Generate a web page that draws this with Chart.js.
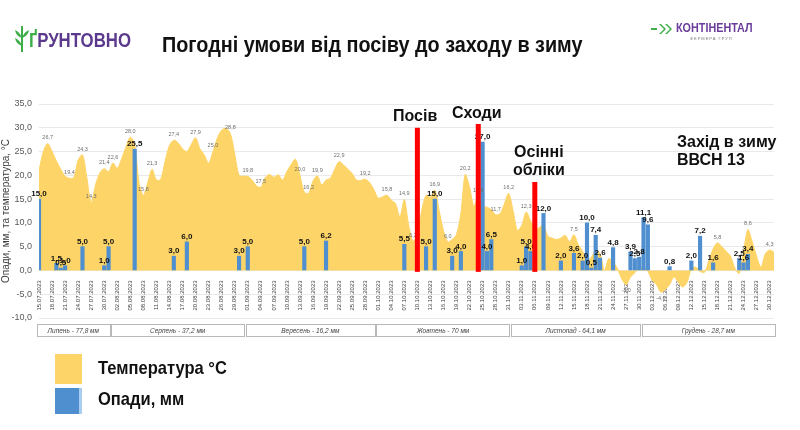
<!DOCTYPE html>
<html lang="uk">
<head>
<meta charset="utf-8">
<title>Погодні умови від посіву до заходу в зиму</title>
<script src="https://cdn.jsdelivr.net/npm/chart.js@4/dist/chart.umd.min.js"></script>
<style>
  html, body { margin: 0; padding: 0; background: #fff; }
  body { width: 800px; height: 430px; position: relative; overflow: hidden; font-family: 'Liberation Sans', Arial, sans-serif; }
  #weather { position: absolute; left: 0; top: 0; }
  .abs { position: absolute; white-space: nowrap; transform-origin: 0 50%; }
  .title { left: 162px; top: 32px; font: bold 22px 'Liberation Sans', Arial, sans-serif; color: #111; transform: scaleX(0.9); }
  .mark { font: bold 16px 'Liberation Sans', Arial, sans-serif; color: #111; line-height: 18px; }
  .legend-text { font: bold 19px 'Liberation Sans', Arial, sans-serif; color: #111; transform: scaleX(0.87); }
  .swatch { position: absolute; }
  .logo-l { left: 29px; top: 29px; font: bold 20px 'Liberation Sans', Arial, sans-serif; color: #5b3a8e; transform: scaleX(0.84); }
  .logo-l span { color: #3fae49; }
  .logo-r { left: 676px; top: 21px; font: bold 12px 'Liberation Sans', Arial, sans-serif; color: #6a3d9a; transform: scaleX(0.9); }
  .logo-sub { left: 690px; top: 36px; font: 4px 'Liberation Sans', sans-serif; color: #777; letter-spacing: 1px; }
</style>
</head>
<body>
<canvas id="weather" width="800" height="430"></canvas>

<svg class="abs" style="left:14px;top:24px" width="16" height="30" viewBox="0 0 16 30">
  <path d="M8 2 L8 28" stroke="#3fae49" stroke-width="2"/>
  <path d="M8 14 Q2 12 1 6 Q6 8 8 14 Z M8 22 Q2 20 1 14 Q6 16 8 22 Z M8 14 Q14 12 15 6 Q10 8 8 14 Z" fill="#3fae49"/>
</svg>
<div class="abs logo-l"><span>Ґ</span>РУНТОВНО</div>

<svg class="abs" style="left:651px;top:23px" width="24" height="12" viewBox="0 0 24 12">
  <path d="M0 6 L6 6" stroke="#3fae49" stroke-width="2"/>
  <path d="M8 1 L13 6 L8 11 L10 11 L15 6 L10 1 Z M14 1 L19 6 L14 11 L16 11 L21 6 L16 1 Z" fill="#3fae49"/>
</svg>
<div class="abs logo-r">КОНТІНЕНТАЛ</div>
<div class="abs logo-sub">ФЕРМЕРА ГРУП</div>

<div class="abs title">Погодні умови від посіву до заходу в зиму</div>

<div class="abs mark" style="left:393px;top:107px">Посів</div>
<div class="abs mark" style="left:452px;top:104px">Сходи</div>
<div class="abs mark" style="left:513px;top:143px;text-align:center">Осінні<br>обліки</div>
<div class="abs mark" style="left:677px;top:133px">Захід в зиму<br>ВВСН 13</div>

<div class="swatch" style="left:55px;top:354px;width:27px;height:30px;background:#fdd467"></div>
<div class="abs legend-text" style="left:98px;top:357px">Температура °C</div>
<div class="swatch" style="left:55px;top:388px;width:24px;height:26px;background:#4f8fd0;border-right:3px solid #a9cdee"></div>
<div class="abs legend-text" style="left:98px;top:388px">Опади, мм</div>

<script>
// daily temperature, °C, 15.07.2023 - 31.12.2023
var tempJul = [21.0, 25.0, 26.7, 25.0, 23.0, 21.3, 19.8, 19.4, 19.5, 23.2, 24.3, 19.5, 14.3, 18.0, 20.5, 21.4, 20.8];
var tempAug = [22.6, 21.5, 23.5, 26.0, 28.0, 26.5, 18.5, 15.8, 18.5, 21.3, 19.0, 19.2, 23.0, 26.3, 27.4, 26.8,
               25.6, 25.0, 26.5, 27.9, 25.6, 24.3, 22.6, 25.0, 27.8, 29.5, 29.9, 28.8, 24.5, 20.0, 19.8];
var tempSep = [19.8, 19.0, 17.8, 17.5, 19.5, 20.2, 19.6, 20.1, 19.0, 20.8, 22.3, 23.4, 20.0, 16.5, 16.2,
               18.8, 19.9, 18.0, 19.0, 19.4, 21.3, 22.9, 22.2, 21.3, 20.4, 19.0, 18.9, 19.2, 18.5, 17.0];
var tempOct = [15.2, 15.5, 15.8, 14.8, 14.0, 11.3, 14.9, 9.5, 6.2, 7.5, 12.6, 15.8, 15.4, 16.9, 12.6, 8.4,
               6.0, 6.5, 7.6, 12.0, 20.2, 17.5, 13.5, 15.6, 13.5, 13.3, 12.8, 11.7, 11.9, 14.0, 16.2];
var tempNov = [12.6, 8.4, 9.5, 12.3, 10.5, 8.5, 9.0, 9.5, 7.2, 6.8, 6.5, 6.8, 7.4, 6.0, 7.5,
               5.4, 4.0, 2.1, 2.8, 4.2, 3.5, 0.0, 2.5, 1.8, 0.4, -1.8, -3.0, -1.4, -0.5, 0.5];
var tempDec = [0.6, -0.2, -2.1, -3.0, -4.6, -4.0, -3.0, -1.4, -2.5, -3.5, -2.5, 0.3, 0.7, -0.2, -0.4, 2.0,
               4.5, 5.8, 5.0, 4.0, 3.0, 0.5, -0.6, 4.0, 8.6, 6.0, 3.0, 0.7, 3.5, 4.3, 3.8];

// rainy days and precipitation, mm
var rainDays = ['15.07.2023', '19.07.2023', '20.07.2023', '21.07.2023', '25.07.2023', '30.07.2023', '31.07.2023',
  '06.08.2023', '15.08.2023', '18.08.2023', '30.08.2023', '01.09.2023', '14.09.2023', '19.09.2023',
  '07.10.2023', '12.10.2023', '14.10.2023', '18.10.2023', '20.10.2023', '25.10.2023', '26.10.2023', '27.10.2023',
  '03.11.2023', '04.11.2023', '05.11.2023', '08.11.2023', '12.11.2023', '15.11.2023', '17.11.2023', '18.11.2023',
  '19.11.2023', '20.11.2023', '21.11.2023', '24.11.2023', '28.11.2023', '29.11.2023', '30.11.2023',
  '01.12.2023', '02.12.2023', '07.12.2023', '12.12.2023', '14.12.2023', '17.12.2023', '23.12.2023', '24.12.2023', '25.12.2023'];
var rainMm = [15.0, 1.5, 0.5, 1.0, 5.0, 1.0, 5.0,
  25.5, 3.0, 6.0, 3.0, 5.0, 5.0, 6.2,
  5.5, 5.0, 15.0, 3.0, 4.0, 27.0, 4.0, 6.5,
  1.0, 5.0, 4.0, 12.0, 2.0, 3.6, 2.0, 10.0,
  0.5, 7.4, 2.6, 4.8, 3.9, 2.5, 2.8,
  11.1, 9.6, 0.8, 2.0, 7.2, 1.6, 2.5, 1.6, 3.4];

// field stages (red marks) and monthly totals
var stageDays = ['10.10.2023', '24.10.2023', '06.11.2023'];
var stageTop = [30.0, 30.8, 18.6];
var monthNames = ['Липень - 77,8 мм', 'Серпень - 37,2 мм', 'Вересень - 16,2 мм', 'Жовтень - 70 мм', 'Листопад - 64,1 мм', 'Грудень - 28,7 мм'];
var monthFirst = ['15.07.2023', '01.08.2023', '01.09.2023', '01.10.2023', '01.11.2023', '01.12.2023'];
var monthLast = ['31.07.2023', '31.08.2023', '30.09.2023', '31.10.2023', '30.11.2023', '31.12.2023'];

// days that carry a temperature label
var tempLabelDays = ['17.07.2023', '22.07.2023', '25.07.2023', '27.07.2023', '30.07.2023', '01.08.2023', '05.08.2023',
  '08.08.2023', '10.08.2023', '15.08.2023', '20.08.2023', '24.08.2023', '28.08.2023', '01.09.2023', '04.09.2023',
  '13.09.2023', '15.09.2023', '17.09.2023', '22.09.2023', '28.09.2023', '03.10.2023', '07.10.2023', '09.10.2023',
  '14.10.2023', '17.10.2023', '21.10.2023', '24.10.2023', '28.10.2023', '31.10.2023', '04.11.2023', '15.11.2023',
  '27.11.2023', '05.12.2023', '18.12.2023', '25.12.2023', '30.12.2023'];

var temperature = tempJul.concat(tempAug, tempSep, tempOct, tempNov, tempDec);

// categories: one per day
var days = [];
var d = new Date(2023, 6, 15);
for (var k = 0; k < temperature.length; k++) {
  var dd = ('0' + d.getDate()).slice(-2), mm = ('0' + (d.getMonth() + 1)).slice(-2);
  days.push(dd + '.' + mm + '.' + d.getFullYear());
  d.setDate(d.getDate() + 1);
}

var precipitation = days.map(function(day) {
  var i = rainDays.indexOf(day);
  return i < 0 ? null : rainMm[i];
});

function fmt(v) {
  return v.toFixed(1).replace('.', ',');
}

// labels, stage lines and month boxes
var overlay = {
  id: 'overlay',
  afterDatasetsDraw: function(chart) {
    var ctx = chart.ctx, x = chart.scales.x, y = chart.scales.y;
    ctx.save();

    // temperature values
    ctx.font = '5.5px "Liberation Sans", Arial';
    ctx.fillStyle = '#6f6f6f';
    ctx.textAlign = 'center';
    var pts = chart.getDatasetMeta(1).data;
    tempLabelDays.forEach(function(day) {
      var i = days.indexOf(day), v = temperature[i], p = pts[i];
      ctx.textBaseline = v < 0 ? 'top' : 'bottom';
      ctx.fillText(fmt(v), p.x, v < 0 ? p.y + 3 : p.y - 3);
    });

    // precipitation values
    ctx.font = 'bold 8px "Liberation Sans", Arial';
    ctx.fillStyle = '#111';
    ctx.textBaseline = 'bottom';
    chart.getDatasetMeta(0).data.forEach(function(b, i) {
      if (precipitation[i] == null) return;
      ctx.fillText(fmt(precipitation[i]), b.x, b.y - 1);
    });

    // stage lines
    ctx.fillStyle = '#ff0000';
    stageDays.forEach(function(day, k) {
      var px = x.getPixelForValue(days.indexOf(day));
      var top = y.getPixelForValue(stageTop[k]);
      var bot = y.getPixelForValue(-0.3);
      ctx.fillRect(px - 2.5, top, 5, bot - top);
    });

    // month boxes
    ctx.font = 'italic 6.5px "Liberation Sans", Arial';
    ctx.fillStyle = '#444';
    ctx.strokeStyle = '#b8b8b8';
    ctx.lineWidth = 1;
    ctx.textBaseline = 'middle';
    monthNames.forEach(function(name, k) {
      var x0 = x.getPixelForValue(days.indexOf(monthFirst[k])) - 2;
      var x1 = x.getPixelForValue(days.indexOf(monthLast[k])) + 1;
      ctx.strokeRect(Math.round(x0) + 0.5, 324.5, Math.round(x1 - x0), 12);
      ctx.fillText(name, (x0 + x1) / 2, 331);
    });

    ctx.restore();
  }
};

new Chart(document.getElementById('weather'), {
  data: {
    labels: days,
    datasets: [{
      type: 'bar',
      label: 'Опади, мм',
      data: precipitation,
      backgroundColor: '#4f8fd0',
      barThickness: 3.5,
      order: 0
    }, {
      type: 'line',
      label: 'Температура °C',
      data: temperature,
      backgroundColor: '#fdd467',
      borderColor: '#fdd467',
      borderWidth: 1,
      fill: 'origin',
      pointRadius: 0,
      tension: 0.3,
      order: 1
    }]
  },
  options: {
    responsive: false,
    animation: false,
    layout: { padding: { top: 104, right: 26, bottom: 112, left: 0 } },
    plugins: { legend: { display: false }, tooltip: { enabled: false } },
    scales: {
      x: {
        position: { y: 0 },
        offset: false,
        grid: { display: false },
        border: { display: false },
        ticks: {
          autoSkip: false,
          maxRotation: 90,
          minRotation: 90,
          padding: 2,
          font: { size: 6, family: 'Liberation Sans' },
          color: '#404040',
          callback: function(v, i) { return i % 3 === 0 ? days[i] : ''; }
        }
      },
      y: {
        min: -10,
        max: 35,
        afterFit: function(scale) { scale.width = 39; },
        grid: { color: '#e9e9e9', drawTicks: false },
        border: { display: false },
        ticks: {
          stepSize: 2.5,
          padding: 7,
          font: { size: 9, family: 'Liberation Sans' },
          color: '#595959',
          callback: function(v) { return v % 5 === 0 ? fmt(v) : ''; }
        },
        title: {
          display: true,
          text: 'Опади, мм, та температура, °С',
          font: { size: 10, family: 'Liberation Sans' },
          color: '#404040',
          padding: { top: 0, bottom: 0 }
        }
      }
    }
  },
  plugins: [overlay]
});
</script>
</body>
</html>
